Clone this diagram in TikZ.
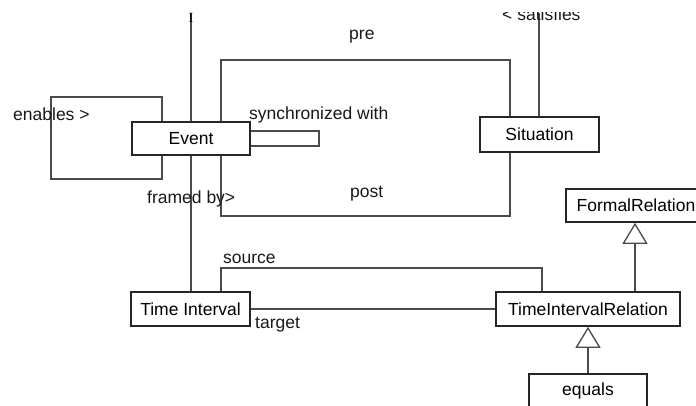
\documentclass[tikz,border=0pt]{standalone}
\usepackage{fontspec}
\setmainfont{Liberation Sans}
\newfontfamily\serifglyph{Liberation Serif}
\usetikzlibrary{arrows.meta}
\definecolor{wire}{HTML}{4A4A4A}
\definecolor{boxedge}{HTML}{262626}
\begin{document}
\begin{tikzpicture}[x=1pt,y=-1pt,
  classbox/.style={draw=boxedge, line width=1.6pt, fill=white, minimum height=34pt,
    inner sep=0pt, font=\fontsize{17.5}{20}\selectfont},
  wire/.style={draw=wire, line width=1.3pt},
  lbl/.style={inner sep=0pt, font=\fontsize{17.5}{20}\selectfont, text=black!90},
  gen/.style={-{Triangle[open,length=21pt,width=25pt]}}]

\useasboundingbox[fill=white] (0,0) rectangle (696,405);

% classes
\node[classbox, minimum width=118pt, minimum height=33pt] (event) at (191,138.5) {Event};
\node[classbox, minimum width=119pt, minimum height=35pt] (situation) at (539.5,134.5) {Situation};
\node[classbox, minimum width=119pt] (interval) at (190.5,309) {Time Interval};
\node[classbox, minimum width=184pt] (tir) at (588,309) {TimeIntervalRelation};
\node[classbox, minimum width=140pt, minimum height=33pt] (formal) at (636,205.5) {FormalRelation};
\node[classbox, minimum width=118pt] (equals) at (588,391) {equals};

% helper coordinates for the routed connectors
\coordinate (topA) at (191,12.5);
\coordinate (topS) at (539,12.5);
\coordinate (xEn) at (162,0);
\coordinate (xPP) at (221,0);
\coordinate (xPR) at (510,0);
\coordinate (xSrc) at (542,0);
\coordinate (xGen) at (635,0);
\coordinate (ySyncA) at (0,131);
\coordinate (ySyncB) at (0,146);

% associations
\draw[wire] (event.north) -- (topA);
\draw[wire] (event.south) -- (event.south |- interval.north);
\draw[wire] (event.north -| xEn) |- (51,97) |- (162,179) -- (event.south -| xEn);
\draw[wire] (event.east |- ySyncA) -- (319,131) -- (319,146) -- (event.east |- ySyncB);
\draw[wire] (event.north -| xPP) |- (510,60) -- (situation.north -| xPR);
\draw[wire] (event.south -| xPP) |- (510,216) -- (situation.south -| xPR);
\draw[wire] (situation.north -| topS) -- (topS);
\draw[wire] (interval.north -| xPP) |- (542,268) -- (tir.north -| xSrc);
\draw[wire] (interval.east) -- (tir.west);

% generalizations
\draw[wire, gen] (tir.north -| xGen) -- (formal.south -| xGen);
\draw[wire, gen] (equals.north) -- (tir.south);

% role labels
\node[lbl, anchor=base west] (enablesLbl) at (13,120) {enables >};
\node[lbl, anchor=base west] (syncLbl) at (249,119) {synchronized with};
\node[lbl, anchor=base west] (framedLbl) at (147,203) {framed by>};
\node[lbl, anchor=base west] (preLbl) at (349,39) {pre};
\node[lbl, anchor=base west] (postLbl) at (350,197) {post};
\node[lbl, anchor=base west] (sourceLbl) at (223,263) {source};
\node[lbl, anchor=base west] (targetLbl) at (255,328) {target};

% labels cut off at the upper edge
\begin{scope}
  \clip (0,12.5) rectangle (696,60);
  \node[lbl, anchor=base west] (satLbl) at (502,20.5) {< satisfies};
  \node[inner sep=0pt, anchor=base, font=\serifglyph\fontsize{14}{16}\selectfont] (topGlyph) at (191,22) {I};
\end{scope}
\end{tikzpicture}
\end{document}
